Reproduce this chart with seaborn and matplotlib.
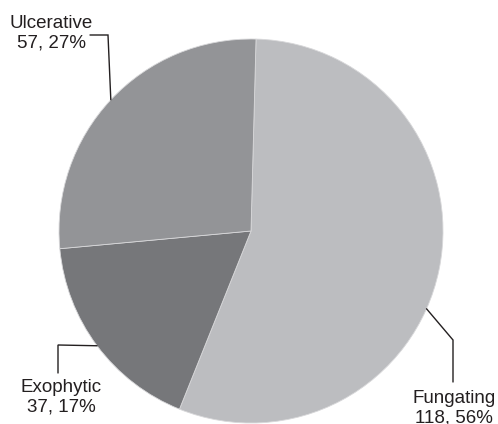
import numpy as np
import matplotlib
matplotlib.use("Agg")
import matplotlib.pyplot as plt
import seaborn as sns

# Data
categories = ["Fungating", "Exophytic", "Ulcerative"]
counts = [118, 37, 57]
percents = [56, 17, 27]
colors = ["#bcbdc0", "#76777a", "#939497"]

sns.set_theme(style="white")
plt.rcParams['font.family'] = ['Liberation Sans', 'DejaVu Sans']

fig = plt.figure(figsize=(4.98, 4.24), dpi=100)
ax = fig.add_axes([0, 0, 1, 1])

cx, cy, r = 251, 193, 192
wedges, _ = ax.pie(counts, colors=colors, startangle=88.5, counterclock=False,
                   center=(cx, cy), radius=r, frame=True,
                   wedgeprops={'edgecolor': '#d8d8da', 'linewidth': 0.6})
ax.set_xlim(0, 498)
ax.set_ylim(0, 424)
ax.axis('off')

# leader lines: start angle on the rim, then polyline points (x, y in px from top)
leaders = {
    "Fungating": (-23.9, [(453, 340), (453, 382)], (454, 408)),
    "Exophytic": (None, [(58, 345), (58, 373)], (61, 397)),
    "Ulcerative": (None, [(108, 35), (90, 35)], (51, 33)),
}

txt = '#231f20'
for w, cat, n, p in zip(wedges, categories, counts, percents):
    ang, pts, lab = leaders[cat]
    if ang is None:
        ang = (w.theta1 + w.theta2) / 2
    a = np.deg2rad(ang)
    x0, y0 = cx + r * np.cos(a), cy + r * np.sin(a)
    xs = [x0] + [q[0] for q in pts]
    ys = [y0] + [424 - q[1] for q in pts]
    ax.plot(xs, ys, color=txt, lw=1.0, solid_joinstyle='miter')
    ax.text(lab[0], 424 - lab[1], f"{cat}\n{n}, {p}%", ha='center', va='center',
            fontsize=13.5, color=txt, linespacing=1.2)

fig.savefig("out.png", dpi=100)
